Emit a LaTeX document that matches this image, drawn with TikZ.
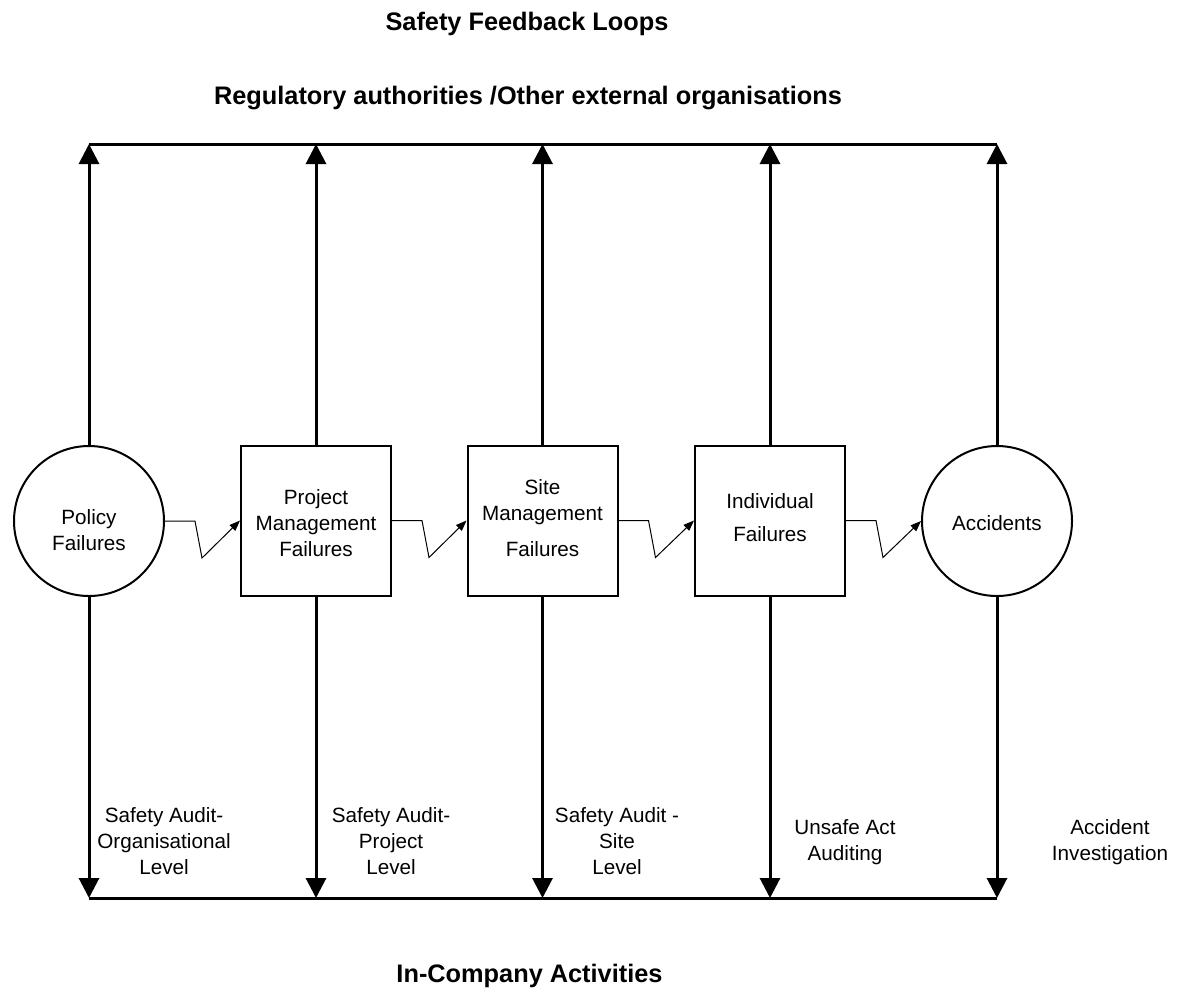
\documentclass[tikz,border=0pt]{standalone}
\usepackage{fontspec}
\setmainfont{Liberation Sans}
\usetikzlibrary{arrows.meta}
\begin{document}
\begin{tikzpicture}[x=0.75pt,y=-0.75pt,
  every node/.style={font=\fontsize{15.5}{19.5}\selectfont, inner sep=0pt, align=center},
  title/.style={font=\fontsize{19}{23}\selectfont\bfseries, anchor=base},
  roundstage/.style={draw, circle, line width=1.5pt, minimum size=112.5pt},
  boxstage/.style={draw, rectangle, line width=1.5pt, minimum width=112.5pt, minimum height=112.5pt},
  feedback/.style={line width=2.25pt, -{Triangle[length=15pt,width=15pt]}},
  rail/.style={line width=2.25pt},
  causes/.style={line width=0.75pt, -{Triangle[length=8pt,width=6pt]}}
]
\useasboundingbox (0,0) rectangle (1185,990);

% headings
\node[title] (head) at (527,30) {Safety Feedback Loops};
\node[title] (ext) at (528,104) {Regulatory authorities /Other external organisations};
\node[title] (inco) at (529.5,982) {In-Company Activities};

% failure chain
\node[roundstage] (policy) at (89,521) {};
\node[boxstage] (project) at (316,520.5) {};
\node[boxstage] (site) at (542.5,520.5) {};
\node[boxstage] (indiv) at (770,520.5) {};
\node[roundstage] (acc) at (997,521) {};

\node (policyt) at (89,530) {Policy\\Failures};
\node (projectt) at (316,523) {Project\\Management\\Failures};
\node (sitet) at (542.5,518.5) {Site\\Management\\[7.5pt]Failures};
\node (indivt) at (770,518) {Individual\\[5.25pt]Failures};
\node (acct) at (997,523.5) {Accidents};

% feedback rails
\coordinate (t1) at (89,144);
\coordinate (t2) at (316,144);
\coordinate (t3) at (542.5,144);
\coordinate (t4) at (770,144);
\coordinate (t5) at (997,144);
\coordinate (b1) at (89,898);
\coordinate (b2) at (316,898);
\coordinate (b3) at (542.5,898);
\coordinate (b4) at (770,898);
\coordinate (b5) at (997,898);

\draw[rail] (t1) -- (t5);
\draw[rail] (b1) -- (b5);

\foreach \n/\i in {policy/1,project/2,site/3,indiv/4,acc/5}{
  \draw[feedback] (\n.north) -- (t\i);
  \draw[feedback] (\n.south) -- (b\i);
}

% causal links
\draw[causes] (policy.east) -- ++(30,0) -- ++(7,37) -- (project.west);
\draw[causes] (project.east) -- ++(30,0) -- ++(7,37) -- (site.west);
\draw[causes] (site.east) -- ++(30,0) -- ++(7,37) -- (indiv.west);
\draw[causes] (indiv.east) -- ++(30,0) -- ++(7,37) -- (acc.west);

% in-company activities
\node (l1) at (164,841.5) {Safety Audit-\\Organisational\\Level};
\node (l2) at (391,841.5) {Safety Audit-\\Project\\Level};
\node (l3) at (617,841) {Safety Audit -\\Site\\Level};
\node (l4) at (845,842.5) {Unsafe Act\\Auditing};
\node (l5) at (1110,842.5) {Accident\\Investigation};
\end{tikzpicture}
\end{document}
